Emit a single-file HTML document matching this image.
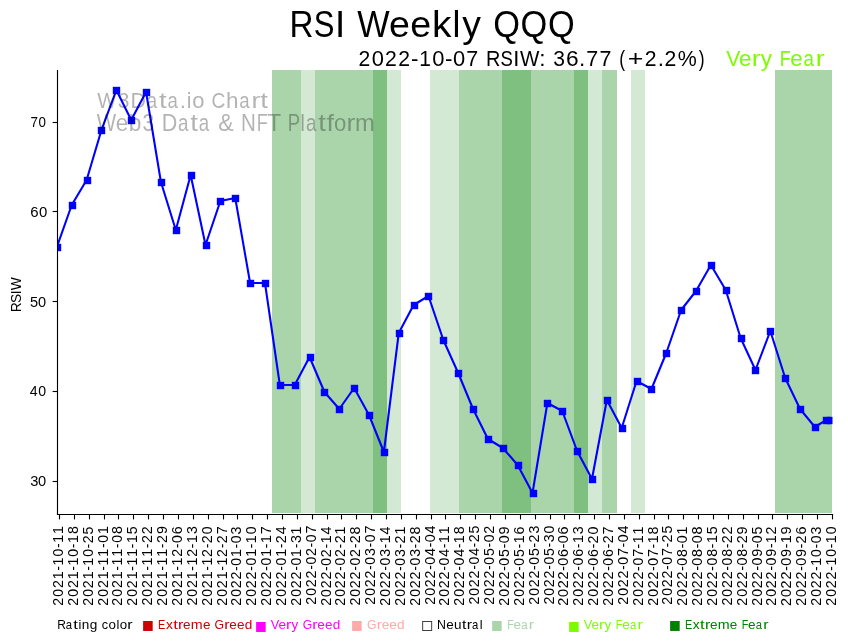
<!DOCTYPE html><html><head><meta charset="utf-8"><title>RSI Weekly QQQ</title><style>html,body{margin:0;padding:0;background:#fff;overflow:hidden}svg{display:block;will-change:transform}text{font-family:"Liberation Sans",sans-serif;font-kerning:none;white-space:pre}</style></head><body>
<svg width="848" height="641" viewBox="0 0 848 641">
<rect x="0" y="0" width="848" height="641" fill="#ffffff"/>
<g shape-rendering="crispEdges">
<rect x="272" y="70" width="29" height="443" fill="#aad4aa"/>
<rect x="301" y="70" width="14" height="443" fill="#d4e9d4"/>
<rect x="315" y="70" width="58" height="443" fill="#aad4aa"/>
<rect x="373" y="70" width="14" height="443" fill="#7fbf7f"/>
<rect x="387" y="70" width="14" height="443" fill="#d4e9d4"/>
<rect x="430" y="70" width="29" height="443" fill="#d4e9d4"/>
<rect x="459" y="70" width="43" height="443" fill="#aad4aa"/>
<rect x="502" y="70" width="29" height="443" fill="#7fbf7f"/>
<rect x="531" y="70" width="43" height="443" fill="#aad4aa"/>
<rect x="574" y="70" width="14" height="443" fill="#7fbf7f"/>
<rect x="588" y="70" width="14" height="443" fill="#d4e9d4"/>
<rect x="602" y="70" width="15" height="443" fill="#aad4aa"/>
<rect x="631" y="70" width="14" height="443" fill="#d4e9d4"/>
<rect x="775" y="70" width="57" height="443" fill="#aad4aa"/>
</g>
<defs><clipPath id="axc"><rect x="57" y="70" width="775.5" height="444"/></clipPath></defs>
<g clip-path="url(#axc)">
<polyline points="56.89,247.00 71.75,205.00 86.62,180.00 101.48,130.00 116.34,90.00 131.21,120.00 146.07,92.00 160.93,182.00 175.80,230.00 190.66,175.00 205.52,245.00 220.39,201.00 235.25,198.00 250.12,283.00 264.98,283.00 279.84,385.00 294.71,385.00 309.57,357.00 324.43,392.00 339.30,409.00 354.16,388.00 369.02,415.00 383.89,452.00 398.75,333.00 413.61,305.00 428.48,296.00 443.34,340.00 458.20,373.00 473.07,409.00 487.93,439.00 502.80,448.00 517.66,465.00 532.52,493.00 547.39,403.00 562.25,411.00 577.11,451.00 591.98,479.00 606.84,400.00 621.70,428.00 636.57,381.00 651.43,389.00 666.29,353.00 681.16,310.00 696.02,291.00 710.88,265.00 725.75,290.00 740.61,338.00 755.47,370.00 770.34,331.00 785.20,378.00 800.06,409.00 814.93,427.00 825.55,420.40 829.80,420.40" fill="none" stroke="#0000ff" stroke-width="2.083" stroke-linejoin="round" stroke-linecap="square"/>
<rect x="53.80" y="243.80" width="7.4" height="7.4" fill="#0000ff"/>
<rect x="68.80" y="201.80" width="7.4" height="7.4" fill="#0000ff"/>
<rect x="83.80" y="176.80" width="7.4" height="7.4" fill="#0000ff"/>
<rect x="97.80" y="126.80" width="7.4" height="7.4" fill="#0000ff"/>
<rect x="112.80" y="86.80" width="7.4" height="7.4" fill="#0000ff"/>
<rect x="127.80" y="116.80" width="7.4" height="7.4" fill="#0000ff"/>
<rect x="142.80" y="88.80" width="7.4" height="7.4" fill="#0000ff"/>
<rect x="157.80" y="178.80" width="7.4" height="7.4" fill="#0000ff"/>
<rect x="172.80" y="226.80" width="7.4" height="7.4" fill="#0000ff"/>
<rect x="187.80" y="171.80" width="7.4" height="7.4" fill="#0000ff"/>
<rect x="202.80" y="241.80" width="7.4" height="7.4" fill="#0000ff"/>
<rect x="216.80" y="197.80" width="7.4" height="7.4" fill="#0000ff"/>
<rect x="231.80" y="194.80" width="7.4" height="7.4" fill="#0000ff"/>
<rect x="246.80" y="279.80" width="7.4" height="7.4" fill="#0000ff"/>
<rect x="261.80" y="279.80" width="7.4" height="7.4" fill="#0000ff"/>
<rect x="276.80" y="381.80" width="7.4" height="7.4" fill="#0000ff"/>
<rect x="291.80" y="381.80" width="7.4" height="7.4" fill="#0000ff"/>
<rect x="306.80" y="353.80" width="7.4" height="7.4" fill="#0000ff"/>
<rect x="320.80" y="388.80" width="7.4" height="7.4" fill="#0000ff"/>
<rect x="335.80" y="405.80" width="7.4" height="7.4" fill="#0000ff"/>
<rect x="350.80" y="384.80" width="7.4" height="7.4" fill="#0000ff"/>
<rect x="365.80" y="411.80" width="7.4" height="7.4" fill="#0000ff"/>
<rect x="380.80" y="448.80" width="7.4" height="7.4" fill="#0000ff"/>
<rect x="395.80" y="329.80" width="7.4" height="7.4" fill="#0000ff"/>
<rect x="410.80" y="301.80" width="7.4" height="7.4" fill="#0000ff"/>
<rect x="424.80" y="292.80" width="7.4" height="7.4" fill="#0000ff"/>
<rect x="439.80" y="336.80" width="7.4" height="7.4" fill="#0000ff"/>
<rect x="454.80" y="369.80" width="7.4" height="7.4" fill="#0000ff"/>
<rect x="469.80" y="405.80" width="7.4" height="7.4" fill="#0000ff"/>
<rect x="484.80" y="435.80" width="7.4" height="7.4" fill="#0000ff"/>
<rect x="499.80" y="444.80" width="7.4" height="7.4" fill="#0000ff"/>
<rect x="514.80" y="461.80" width="7.4" height="7.4" fill="#0000ff"/>
<rect x="529.80" y="489.80" width="7.4" height="7.4" fill="#0000ff"/>
<rect x="543.80" y="399.80" width="7.4" height="7.4" fill="#0000ff"/>
<rect x="558.80" y="407.80" width="7.4" height="7.4" fill="#0000ff"/>
<rect x="573.80" y="447.80" width="7.4" height="7.4" fill="#0000ff"/>
<rect x="588.80" y="475.80" width="7.4" height="7.4" fill="#0000ff"/>
<rect x="603.80" y="396.80" width="7.4" height="7.4" fill="#0000ff"/>
<rect x="618.80" y="424.80" width="7.4" height="7.4" fill="#0000ff"/>
<rect x="633.80" y="377.80" width="7.4" height="7.4" fill="#0000ff"/>
<rect x="647.80" y="385.80" width="7.4" height="7.4" fill="#0000ff"/>
<rect x="662.80" y="349.80" width="7.4" height="7.4" fill="#0000ff"/>
<rect x="677.80" y="306.80" width="7.4" height="7.4" fill="#0000ff"/>
<rect x="692.80" y="287.80" width="7.4" height="7.4" fill="#0000ff"/>
<rect x="707.80" y="261.80" width="7.4" height="7.4" fill="#0000ff"/>
<rect x="722.80" y="286.80" width="7.4" height="7.4" fill="#0000ff"/>
<rect x="737.80" y="334.80" width="7.4" height="7.4" fill="#0000ff"/>
<rect x="751.80" y="366.80" width="7.4" height="7.4" fill="#0000ff"/>
<rect x="766.80" y="327.80" width="7.4" height="7.4" fill="#0000ff"/>
<rect x="781.80" y="374.80" width="7.4" height="7.4" fill="#0000ff"/>
<rect x="796.80" y="405.80" width="7.4" height="7.4" fill="#0000ff"/>
<rect x="811.80" y="423.80" width="7.4" height="7.4" fill="#0000ff"/>
<rect x="822.80" y="416.80" width="7.4" height="7.4" fill="#0000ff"/>
<rect x="826.80" y="416.80" width="7.4" height="7.4" fill="#0000ff"/>
</g>
<g stroke="#000" stroke-width="1.111" stroke-linecap="square">
<line x1="57.5" y1="70.5" x2="57.5" y2="514.5"/>
<line x1="57.5" y1="514.5" x2="832.5" y2="514.5"/>
</g>
<g stroke="#000" stroke-width="1.111">
<line x1="59.5" y1="514.5" x2="59.5" y2="519.4"/>
<line x1="74.5" y1="514.5" x2="74.5" y2="519.4"/>
<line x1="89.5" y1="514.5" x2="89.5" y2="519.4"/>
<line x1="104.5" y1="514.5" x2="104.5" y2="519.4"/>
<line x1="118.5" y1="514.5" x2="118.5" y2="519.4"/>
<line x1="133.5" y1="514.5" x2="133.5" y2="519.4"/>
<line x1="148.5" y1="514.5" x2="148.5" y2="519.4"/>
<line x1="163.5" y1="514.5" x2="163.5" y2="519.4"/>
<line x1="178.5" y1="514.5" x2="178.5" y2="519.4"/>
<line x1="193.5" y1="514.5" x2="193.5" y2="519.4"/>
<line x1="208.5" y1="514.5" x2="208.5" y2="519.4"/>
<line x1="223.5" y1="514.5" x2="223.5" y2="519.4"/>
<line x1="237.5" y1="514.5" x2="237.5" y2="519.4"/>
<line x1="252.5" y1="514.5" x2="252.5" y2="519.4"/>
<line x1="267.5" y1="514.5" x2="267.5" y2="519.4"/>
<line x1="282.5" y1="514.5" x2="282.5" y2="519.4"/>
<line x1="297.5" y1="514.5" x2="297.5" y2="519.4"/>
<line x1="312.5" y1="514.5" x2="312.5" y2="519.4"/>
<line x1="327.5" y1="514.5" x2="327.5" y2="519.4"/>
<line x1="341.5" y1="514.5" x2="341.5" y2="519.4"/>
<line x1="356.5" y1="514.5" x2="356.5" y2="519.4"/>
<line x1="371.5" y1="514.5" x2="371.5" y2="519.4"/>
<line x1="386.5" y1="514.5" x2="386.5" y2="519.4"/>
<line x1="401.5" y1="514.5" x2="401.5" y2="519.4"/>
<line x1="416.5" y1="514.5" x2="416.5" y2="519.4"/>
<line x1="431.5" y1="514.5" x2="431.5" y2="519.4"/>
<line x1="445.5" y1="514.5" x2="445.5" y2="519.4"/>
<line x1="460.5" y1="514.5" x2="460.5" y2="519.4"/>
<line x1="475.5" y1="514.5" x2="475.5" y2="519.4"/>
<line x1="490.5" y1="514.5" x2="490.5" y2="519.4"/>
<line x1="505.5" y1="514.5" x2="505.5" y2="519.4"/>
<line x1="520.5" y1="514.5" x2="520.5" y2="519.4"/>
<line x1="535.5" y1="514.5" x2="535.5" y2="519.4"/>
<line x1="550.5" y1="514.5" x2="550.5" y2="519.4"/>
<line x1="564.5" y1="514.5" x2="564.5" y2="519.4"/>
<line x1="579.5" y1="514.5" x2="579.5" y2="519.4"/>
<line x1="594.5" y1="514.5" x2="594.5" y2="519.4"/>
<line x1="609.5" y1="514.5" x2="609.5" y2="519.4"/>
<line x1="624.5" y1="514.5" x2="624.5" y2="519.4"/>
<line x1="639.5" y1="514.5" x2="639.5" y2="519.4"/>
<line x1="654.5" y1="514.5" x2="654.5" y2="519.4"/>
<line x1="668.5" y1="514.5" x2="668.5" y2="519.4"/>
<line x1="683.5" y1="514.5" x2="683.5" y2="519.4"/>
<line x1="698.5" y1="514.5" x2="698.5" y2="519.4"/>
<line x1="713.5" y1="514.5" x2="713.5" y2="519.4"/>
<line x1="728.5" y1="514.5" x2="728.5" y2="519.4"/>
<line x1="743.5" y1="514.5" x2="743.5" y2="519.4"/>
<line x1="758.5" y1="514.5" x2="758.5" y2="519.4"/>
<line x1="772.5" y1="514.5" x2="772.5" y2="519.4"/>
<line x1="787.5" y1="514.5" x2="787.5" y2="519.4"/>
<line x1="802.5" y1="514.5" x2="802.5" y2="519.4"/>
<line x1="817.5" y1="514.5" x2="817.5" y2="519.4"/>
<line x1="832.5" y1="514.5" x2="832.5" y2="519.4"/>
<line x1="52.6" y1="481.5" x2="57.5" y2="481.5"/>
<line x1="52.6" y1="391.5" x2="57.5" y2="391.5"/>
<line x1="52.6" y1="301.5" x2="57.5" y2="301.5"/>
<line x1="52.6" y1="211.5" x2="57.5" y2="211.5"/>
<line x1="52.6" y1="122.5" x2="57.5" y2="122.5"/>
</g>
<text font-size="1000.000" fill="#000000" fill-opacity="0.3" transform="matrix(0.02205 0 0 0.02205 0 107.600)" y="0"><tspan x="4409.5" textLength="873.5" lengthAdjust="spacingAndGlyphs">W</tspan><tspan x="5345.8" textLength="528.5" lengthAdjust="spacingAndGlyphs">3</tspan><tspan x="5920.2" textLength="701.4" lengthAdjust="spacingAndGlyphs">D</tspan><tspan x="6651.1" textLength="469.4" lengthAdjust="spacingAndGlyphs">a</tspan><tspan x="7212.0" textLength="348.6" lengthAdjust="spacingAndGlyphs">t</tspan><tspan x="7594.3" textLength="469.4" lengthAdjust="spacingAndGlyphs">a</tspan><tspan x="8156.7" textLength="282.2" lengthAdjust="spacingAndGlyphs">.</tspan><tspan x="8471.7" textLength="213.2" lengthAdjust="spacingAndGlyphs">i</tspan><tspan x="8718.1" textLength="555.0" lengthAdjust="spacingAndGlyphs">o</tspan> <tspan x="9589.3" textLength="629.3" lengthAdjust="spacingAndGlyphs">C</tspan><tspan x="10250.9" textLength="566.8" lengthAdjust="spacingAndGlyphs">h</tspan><tspan x="10851.7" textLength="469.4" lengthAdjust="spacingAndGlyphs">a</tspan><tspan x="11411.8" textLength="400.5" lengthAdjust="spacingAndGlyphs">r</tspan><tspan x="11798.6" textLength="348.6" lengthAdjust="spacingAndGlyphs">t</tspan></text>
<text font-size="1000.000" fill="#000000" fill-opacity="0.3" transform="matrix(0.02410 0 0 0.02410 0 130.600)" y="0"><tspan x="4018.5" textLength="803.5" lengthAdjust="spacingAndGlyphs">W</tspan><tspan x="4804.6" textLength="518.7" lengthAdjust="spacingAndGlyphs">e</tspan><tspan x="5345.7" textLength="522.4" lengthAdjust="spacingAndGlyphs">b</tspan><tspan x="5908.4" textLength="486.1" lengthAdjust="spacingAndGlyphs">3</tspan> <tspan x="6711.2" textLength="645.1" lengthAdjust="spacingAndGlyphs">D</tspan><tspan x="7383.5" textLength="431.8" lengthAdjust="spacingAndGlyphs">a</tspan><tspan x="7899.4" textLength="320.6" lengthAdjust="spacingAndGlyphs">t</tspan><tspan x="8251.1" textLength="431.8" lengthAdjust="spacingAndGlyphs">a</tspan> <tspan x="9056.4" textLength="641.2" lengthAdjust="spacingAndGlyphs">&amp;</tspan> <tspan x="9998.4" textLength="615.9" lengthAdjust="spacingAndGlyphs">N</tspan><tspan x="10650.3" textLength="458.1" lengthAdjust="spacingAndGlyphs">F</tspan><tspan x="11087.4" textLength="575.3" lengthAdjust="spacingAndGlyphs">T</tspan> <tspan x="11935.0" textLength="509.3" lengthAdjust="spacingAndGlyphs">P</tspan><tspan x="12455.5" textLength="196.1" lengthAdjust="spacingAndGlyphs">l</tspan><tspan x="12692.4" textLength="431.8" lengthAdjust="spacingAndGlyphs">a</tspan><tspan x="13208.3" textLength="320.6" lengthAdjust="spacingAndGlyphs">t</tspan><tspan x="13544.9" textLength="315.0" lengthAdjust="spacingAndGlyphs">f</tspan><tspan x="13854.2" textLength="510.5" lengthAdjust="spacingAndGlyphs">o</tspan><tspan x="14378.4" textLength="368.4" lengthAdjust="spacingAndGlyphs">r</tspan><tspan x="14726.4" textLength="819.5" lengthAdjust="spacingAndGlyphs">m</tspan></text>
<text font-size="1000.000" fill="#000000" transform="matrix(0 -0.01421 0.01497 0 62.554 0)" x="-42625.0 -41993.6 -41387.8 -40761.2 -40159.8 -39791.8 -39168.3 -38571.7 -38203.7 -37585.1" y="0">2021-10-11</text>
<text font-size="1000.000" fill="#000000" transform="matrix(0 -0.01428 0.01497 0 77.554 0)" x="-42415.0 -41787.5 -41185.5 -40563.0 -39964.6 -39599.6 -38979.9 -38386.5 -38021.5 -37401.8" y="0">2021-10-18</text>
<text font-size="1000.000" fill="#000000" transform="matrix(0 -0.01414 0.01541 0 92.654 0)" x="-42839.3 -42207.4 -41601.2 -40974.2 -40372.5 -40004.1 -39380.2 -38783.3 -38422.9 -37794.8" y="0">2021-10-25</text>
<text font-size="1000.000" fill="#000000" transform="matrix(0 -0.01421 0.01497 0 107.554 0)" x="-42625.0 -41993.6 -41387.8 -40761.2 -40159.8 -39791.8 -39173.2 -38571.7 -38198.8 -37585.1" y="0">2021-11-01</text>
<text font-size="1000.000" fill="#000000" transform="matrix(0 -0.01428 0.01411 0 121.658 0)" x="-42415.0 -41787.5 -41185.5 -40563.0 -39964.6 -39599.6 -38984.9 -38386.5 -38016.6 -37401.8" y="0">2021-11-08</text>
<text font-size="1000.000" fill="#000000" transform="matrix(0 -0.01410 0.01411 0 136.658 0)" x="-42963.1 -42327.4 -41717.5 -41086.6 -40482.0 -40110.6 -39487.8 -38883.2 -38511.8 -37888.0" y="0">2021-11-15</text>
<text font-size="1000.000" fill="#000000" transform="matrix(0 -0.01413 0.01541 0 151.654 0)" x="-42859.5 -42225.9 -41618.0 -40989.3 -40386.3 -40016.6 -39395.9 -38792.8 -38431.1 -37810.4" y="0">2021-11-22</text>
<text font-size="1000.000" fill="#000000" transform="matrix(0 -0.01426 0.01496 0 166.500 0)" x="-42474.9 -41846.3 -41243.3 -40619.7 -40020.5 -39654.7 -39038.9 -38439.6 -38081.7 -37456.2" y="0">2021-11-29</text>
<text font-size="1000.000" fill="#000000" transform="matrix(0 -0.01430 0.01496 0 181.500 0)" x="-42351.9 -41726.6 -41126.7 -40506.4 -39909.7 -39546.4 -38941.6 -38337.1 -37968.9 -37356.2" y="0">2021-12-06</text>
<text font-size="1000.000" fill="#000000" transform="matrix(0 -0.01412 0.01496 0 196.500 0)" x="-42889.4 -42255.5 -41647.4 -41018.4 -40415.1 -40045.2 -39432.2 -38820.9 -38451.0 -37823.9" y="0">2021-12-13</text>
<text font-size="1000.000" fill="#000000" transform="matrix(0 -0.01417 0.01496 0 211.500 0)" x="-42740.9 -42110.6 -41505.9 -40880.4 -40279.8 -39912.7 -39303.0 -38694.5 -38335.2 -37704.9" y="0">2021-12-20</text>
<text font-size="1000.000" fill="#000000" transform="matrix(0 -0.01415 0.01496 0 226.500 0)" x="-42803.5 -42171.6 -41565.2 -40938.1 -40336.3 -39967.8 -39356.6 -38746.9 -38386.4 -37756.3" y="0">2021-12-27</text>
<text font-size="1000.000" fill="#000000" transform="matrix(0 -0.01422 0.01407 0 240.659 0)" x="-42601.7 -41974.2 -41372.2 -40757.4 -40151.1 -39781.2 -39171.4 -38573.0 -38203.1 -37587.0" y="0">2022-01-03</text>
<text font-size="1000.000" fill="#000000" transform="matrix(0 -0.01423 0.01494 0 255.500 0)" x="-42564.2 -41936.5 -41334.3 -40719.3 -40112.9 -39742.8 -39132.8 -38534.2 -38169.1 -37549.2" y="0">2022-01-10</text>
<text font-size="1000.000" fill="#000000" transform="matrix(0 -0.01421 0.01496 0 270.500 0)" x="-42624.5 -41995.2 -41391.4 -40774.9 -40167.2 -39795.9 -39184.3 -38584.4 -38218.0 -37598.5" y="0">2022-01-17</text>
<text font-size="1000.000" fill="#000000" transform="matrix(0 -0.01424 0.01496 0 285.500 0)" x="-42531.4 -41904.3 -41302.6 -40688.2 -40082.3 -39712.7 -39103.2 -38505.1 -38148.2 -37521.2" y="0">2022-01-24</text>
<text font-size="1000.000" fill="#000000" transform="matrix(0 -0.01418 0.01496 0 300.500 0)" x="-42720.6 -42090.0 -41485.0 -40867.1 -40258.4 -39886.1 -39273.2 -38672.4 -38298.8 -37687.1" y="0">2022-01-31</text>
<text font-size="1000.000" fill="#000000" transform="matrix(0 -0.01424 0.01496 0 315.500 0)" x="-42461.7 -41836.0 -41235.7 -40622.7 -40017.9 -39649.4 -39049.1 -38444.2 -38075.7 -37464.6" y="0">2022-02-07</text>
<text font-size="1000.000" fill="#000000" transform="matrix(0 -0.01424 0.01496 0 330.500 0)" x="-42545.4 -41918.3 -41316.7 -40702.3 -40096.3 -39726.7 -39125.1 -38519.1 -38154.4 -37535.2" y="0">2022-02-14</text>
<text font-size="1000.000" fill="#000000" transform="matrix(0 -0.01418 0.01496 0 344.500 0)" x="-42719.1 -42089.3 -41485.1 -40868.0 -40260.0 -39888.3 -39284.1 -38676.0 -38317.1 -37692.3" y="0">2022-02-21</text>
<text font-size="1000.000" fill="#000000" transform="matrix(0 -0.01424 0.01491 0 359.549 0)" x="-42528.3 -41902.4 -41301.9 -40688.6 -40083.6 -39714.9 -39114.4 -38509.4 -38153.4 -37527.4" y="0">2022-02-28</text>
<text font-size="1000.000" fill="#000000" transform="matrix(0 -0.01424 0.01411 0 374.658 0)" x="-42468.6 -41842.6 -41242.0 -40628.7 -40023.6 -39654.8 -39040.3 -38449.2 -38080.4 -37469.0" y="0">2022-03-07</text>
<text font-size="1000.000" fill="#000000" transform="matrix(0 -0.01423 0.01497 0 389.554 0)" x="-42566.0 -41938.6 -41336.6 -40721.9 -40115.7 -39745.9 -39129.9 -38537.8 -38172.9 -37553.4" y="0">2022-03-14</text>
<text font-size="1000.000" fill="#000000" transform="matrix(0 -0.01417 0.01411 0 404.658 0)" x="-42753.4 -42123.3 -41518.7 -40901.4 -40293.1 -39921.3 -39302.7 -38708.4 -38349.3 -37724.2" y="0">2022-03-21</text>
<text font-size="1000.000" fill="#000000" transform="matrix(0 -0.01424 0.01492 0 419.549 0)" x="-42535.2 -41909.0 -41308.1 -40694.6 -40089.3 -39720.4 -39105.6 -38514.3 -38158.1 -37531.8" y="0">2022-03-28</text>
<text font-size="1000.000" fill="#000000" transform="matrix(0 -0.01434 0.01411 0 434.658 0)" x="-42169.5 -41547.9 -40951.6 -40342.6 -39741.0 -39375.7 -38766.8 -38177.7 -37812.4 -37203.5" y="0">2022-04-04</text>
<text font-size="1000.000" fill="#000000" transform="matrix(0 -0.01425 0.01411 0 448.658 0)" x="-42504.3 -41876.7 -41274.6 -40659.7 -40053.3 -39683.3 -39068.6 -38474.8 -38109.8 -37494.9" y="0">2022-04-11</text>
<text font-size="1000.000" fill="#000000" transform="matrix(0 -0.01431 0.01497 0 463.754 0)" x="-42326.9 -41703.1 -41104.6 -40493.4 -39890.0 -39522.9 -38911.9 -38321.1 -37959.0 -37342.8" y="0">2022-04-18</text>
<text font-size="1000.000" fill="#000000" transform="matrix(0 -0.01418 0.01496 0 478.500 0)" x="-42639.2 -42011.1 -41408.5 -40793.1 -40186.4 -39816.0 -39200.8 -38606.7 -38249.1 -37624.7" y="0">2022-04-25</text>
<text font-size="1000.000" fill="#000000" transform="matrix(0 -0.01419 0.01541 0 493.654 0)" x="-42619.1 -41990.9 -41388.2 -40772.8 -40166.0 -39795.6 -39183.9 -38586.1 -38215.7 -37613.0" y="0">2022-05-02</text>
<text font-size="1000.000" fill="#000000" transform="matrix(0 -0.01431 0.01496 0 508.500 0)" x="-42331.2 -41707.8 -41109.7 -40499.0 -39896.0 -39529.2 -38922.2 -38328.1 -37961.3 -37353.6" y="0">2022-05-09</text>
<text font-size="1000.000" fill="#000000" transform="matrix(0 -0.01425 0.01496 0 523.500 0)" x="-42513.0 -41886.7 -41285.9 -40672.3 -40067.0 -39698.0 -39088.2 -38491.9 -38127.9 -37509.2" y="0">2022-05-16</text>
<text font-size="1000.000" fill="#000000" transform="matrix(0 -0.01412 0.01411 0 538.658 0)" x="-42826.3 -42195.2 -41589.8 -40971.5 -40362.5 -39989.8 -39375.4 -38775.3 -38415.5 -37783.2" y="0">2022-05-23</text>
<text font-size="1000.000" fill="#000000" transform="matrix(0 -0.01417 0.01496 0 553.500 0)" x="-42667.0 -42038.5 -41435.5 -40819.8 -40212.8 -39842.1 -39230.2 -38632.1 -38260.2 -37645.7" y="0">2022-05-30</text>
<text font-size="1000.000" fill="#000000" transform="matrix(0 -0.01446 0.01537 0 567.504 0)" x="-41897.0 -41280.0 -40688.1 -40083.7 -39485.8 -39124.0 -38519.5 -37934.1 -37572.3 -36967.9" y="0">2022-06-06</text>
<text font-size="1000.000" fill="#000000" transform="matrix(0 -0.01430 0.01452 0 582.604 0)" x="-42356.6 -41731.5 -41131.8 -40519.4 -39915.1 -39547.0 -38934.5 -38343.0 -37979.9 -37361.2" y="0">2022-06-13</text>
<text font-size="1000.000" fill="#000000" transform="matrix(0 -0.01435 0.01537 0 597.703 0)" x="-42215.9 -41594.1 -40997.6 -40388.4 -39786.7 -39421.2 -38812.0 -38222.9 -37870.0 -37248.3" y="0">2022-06-20</text>
<text font-size="1000.000" fill="#000000" transform="matrix(0 -0.01432 0.01496 0 612.500 0)" x="-42301.2 -41678.0 -41080.0 -40469.3 -39866.4 -39499.7 -38889.0 -38298.8 -37944.8 -37323.4" y="0">2022-06-27</text>
<text font-size="1000.000" fill="#000000" transform="matrix(0 -0.01430 0.01496 0 627.500 0)" x="-42287.4 -41664.3 -41066.4 -40456.0 -39853.1 -39486.6 -38878.0 -38286.0 -37919.4 -37309.0" y="0">2022-07-04</text>
<text font-size="1000.000" fill="#000000" transform="matrix(0 -0.01421 0.01496 0 642.500 0)" x="-42632.1 -42002.8 -41399.0 -40782.5 -40174.8 -39803.5 -39188.9 -38592.1 -38225.7 -37609.1" y="0">2022-07-11</text>
<text font-size="1000.000" fill="#000000" transform="matrix(0 -0.01428 0.01496 0 657.500 0)" x="-42421.4 -41795.9 -41195.9 -40583.2 -39978.5 -39610.2 -38999.3 -38405.5 -38042.1 -37424.4" y="0">2022-07-18</text>
<text font-size="1000.000" fill="#000000" transform="matrix(0 -0.01415 0.01496 0 671.500 0)" x="-42737.7 -42108.0 -41503.8 -40886.8 -40278.7 -39907.1 -39292.0 -38694.8 -38336.0 -37710.0" y="0">2022-07-25</text>
<text font-size="1000.000" fill="#000000" transform="matrix(0 -0.01433 0.01454 0 686.604 0)" x="-42281.0 -41657.1 -41058.6 -40447.4 -39843.9 -39476.8 -38865.6 -38274.8 -37907.7 -37301.5" y="0">2022-08-01</text>
<text font-size="1000.000" fill="#000000" transform="matrix(0 -0.01440 0.01450 0 701.604 0)" x="-42067.3 -41447.1 -40852.1 -40244.5 -39644.0 -39279.7 -38672.1 -38084.2 -37719.9 -37112.3" y="0">2022-08-08</text>
<text font-size="1000.000" fill="#000000" transform="matrix(0 -0.01423 0.01496 0 716.500 0)" x="-42562.0 -41934.0 -41331.6 -40716.4 -40109.8 -39739.5 -39124.3 -38530.4 -38165.1 -37548.7" y="0">2022-08-15</text>
<text font-size="1000.000" fill="#000000" transform="matrix(0 -0.01426 0.01447 0 731.595 0)" x="-42468.9 -41843.0 -41242.5 -40629.2 -40024.2 -39655.5 -39042.3 -38450.0 -38094.0 -37480.7" y="0">2022-08-22</text>
<text font-size="1000.000" fill="#000000" transform="matrix(0 -0.01438 0.01492 0 746.549 0)" x="-42126.1 -41504.9 -40908.9 -40300.4 -39699.1 -39334.1 -38725.5 -38136.9 -37784.4 -37166.3" y="0">2022-08-29</text>
<text font-size="1000.000" fill="#000000" transform="matrix(0 -0.01431 0.01411 0 761.658 0)" x="-42324.2 -41700.8 -41102.7 -40491.9 -39888.9 -39522.1 -38914.4 -38321.0 -37954.3 -37347.2" y="0">2022-09-05</text>
<text font-size="1000.000" fill="#000000" transform="matrix(0 -0.01431 0.01410 0 775.658 0)" x="-42331.6 -41706.7 -41107.2 -40495.0 -39890.7 -39522.8 -38913.6 -38319.1 -37956.1 -37351.6" y="0">2022-09-12</text>
<text font-size="1000.000" fill="#000000" transform="matrix(0 -0.01443 0.01539 0 790.504 0)" x="-41990.6 -41370.5 -40775.5 -40168.0 -39567.6 -39203.3 -38598.8 -38007.9 -37648.7 -37039.2" y="0">2022-09-19</text>
<text font-size="1000.000" fill="#000000" transform="matrix(0 -0.01440 0.01492 0 805.549 0)" x="-42071.1 -41451.6 -40857.2 -40250.2 -39650.3 -39286.5 -38682.6 -38092.1 -37740.9 -37121.3" y="0">2022-09-26</text>
<text font-size="1000.000" fill="#000000" transform="matrix(0 -0.01422 0.01411 0 820.658 0)" x="-42601.7 -41974.2 -41372.2 -40757.4 -40151.1 -39786.2 -39166.5 -38573.0 -38203.1 -37587.0" y="0">2022-10-03</text>
<text font-size="1000.000" fill="#000000" transform="matrix(0 -0.01423 0.01496 0 835.500 0)" x="-42564.2 -41936.5 -41334.3 -40719.3 -40112.9 -39747.8 -39127.9 -38534.2 -38169.1 -37549.2" y="0">2022-10-10</text>
<text font-size="1000.000" fill="#000000" transform="matrix(0.01465 0 0 0.01532 0 485.683)" x="2063.3 2597.2" y="0">30</text>
<text font-size="1000.000" fill="#000000" transform="matrix(0.01414 0 0 0.01493 0 395.518)" x="2108.7 2712.3" y="0">40</text>
<text font-size="1000.000" fill="#000000" transform="matrix(0.01459 0 0 0.01494 0 306.530)" x="2065.2 2608.3" y="0">50</text>
<text font-size="1000.000" fill="#000000" transform="matrix(0.01498 0 0 0.01488 0 216.725)" x="2015.7 2609.0" y="0">60</text>
<text font-size="1000.000" fill="#000000" transform="matrix(0.01338 0 0 0.01497 0 126.504)" x="2272.9 2884.8" y="0">70</text>
<text font-size="1000.000" fill="#000000" transform="matrix(0 -0.01378 0.01540 0 20.500 0)" x="-22655.7 -21994.9 -21355.5 -21067.2" y="0">RSIW</text>
<text font-size="1000.000" fill="#000000" transform="matrix(0.03385 0 0 0.03679 0 36.500)" y="0"><tspan x="8549.8" textLength="709.6" lengthAdjust="spacingAndGlyphs">R</tspan><tspan x="9269.5" textLength="610.9" lengthAdjust="spacingAndGlyphs">S</tspan><tspan x="9896.1" textLength="301.9" lengthAdjust="spacingAndGlyphs">I</tspan> <tspan x="10554.8" textLength="956.0" lengthAdjust="spacingAndGlyphs">W</tspan><tspan x="11490.2" textLength="617.2" lengthAdjust="spacingAndGlyphs">e</tspan><tspan x="12122.2" textLength="617.2" lengthAdjust="spacingAndGlyphs">e</tspan><tspan x="12760.7" textLength="574.4" lengthAdjust="spacingAndGlyphs">k</tspan><tspan x="13365.8" textLength="233.3" lengthAdjust="spacingAndGlyphs">l</tspan><tspan x="13653.1" textLength="551.6" lengthAdjust="spacingAndGlyphs">y</tspan> <tspan x="14569.3" textLength="790.0" lengthAdjust="spacingAndGlyphs">Q</tspan><tspan x="15378.0" textLength="790.0" lengthAdjust="spacingAndGlyphs">Q</tspan><tspan x="16186.6" textLength="790.0" lengthAdjust="spacingAndGlyphs">Q</tspan></text>
<text font-size="1000.000" fill="#000000" transform="matrix(0.02308 0 0 0.02137 0 65.500)" y="0"><tspan x="15528.2" textLength="509.9" lengthAdjust="spacingAndGlyphs">2</tspan><tspan x="16104.7" textLength="529.0" lengthAdjust="spacingAndGlyphs">0</tspan><tspan x="16676.5" textLength="509.9" lengthAdjust="spacingAndGlyphs">2</tspan><tspan x="17250.7" textLength="509.9" lengthAdjust="spacingAndGlyphs">2</tspan><tspan x="17805.7" textLength="324.0" lengthAdjust="spacingAndGlyphs">-</tspan><tspan x="18160.4" textLength="505.3" lengthAdjust="spacingAndGlyphs">1</tspan><tspan x="18726.9" textLength="529.0" lengthAdjust="spacingAndGlyphs">0</tspan><tspan x="19279.6" textLength="324.0" lengthAdjust="spacingAndGlyphs">-</tspan><tspan x="19626.7" textLength="529.0" lengthAdjust="spacingAndGlyphs">0</tspan><tspan x="20204.8" textLength="517.5" lengthAdjust="spacingAndGlyphs">7</tspan> <tspan x="21057.3" textLength="623.3" lengthAdjust="spacingAndGlyphs">R</tspan><tspan x="21689.5" textLength="536.6" lengthAdjust="spacingAndGlyphs">S</tspan><tspan x="22239.8" textLength="265.2" lengthAdjust="spacingAndGlyphs">I</tspan><tspan x="22531.5" textLength="839.7" lengthAdjust="spacingAndGlyphs">W</tspan><tspan x="23361.3" textLength="271.3" lengthAdjust="spacingAndGlyphs">:</tspan> <tspan x="23969.6" textLength="508.1" lengthAdjust="spacingAndGlyphs">3</tspan><tspan x="24522.8" textLength="547.6" lengthAdjust="spacingAndGlyphs">6</tspan><tspan x="25091.2" textLength="271.3" lengthAdjust="spacingAndGlyphs">.</tspan><tspan x="25397.1" textLength="517.5" lengthAdjust="spacingAndGlyphs">7</tspan><tspan x="25971.2" textLength="517.5" lengthAdjust="spacingAndGlyphs">7</tspan> <tspan x="26836.1" textLength="254.0" lengthAdjust="spacingAndGlyphs">(</tspan><tspan x="27196.8" textLength="679.0" lengthAdjust="spacingAndGlyphs">+</tspan><tspan x="27934.1" textLength="509.9" lengthAdjust="spacingAndGlyphs">2</tspan><tspan x="28495.6" textLength="271.3" lengthAdjust="spacingAndGlyphs">.</tspan><tspan x="28795.0" textLength="509.9" lengthAdjust="spacingAndGlyphs">2</tspan><tspan x="29366.0" textLength="823.9" lengthAdjust="spacingAndGlyphs">%</tspan><tspan x="30274.5" textLength="254.0" lengthAdjust="spacingAndGlyphs">)</tspan></text>
<text font-size="1000.000" fill="#7cfc00" transform="matrix(0.02207 0 0 0.02207 0 65.500)" y="0"><tspan x="32911.0" textLength="639.1" lengthAdjust="spacingAndGlyphs">V</tspan><tspan x="33489.4" textLength="567.2" lengthAdjust="spacingAndGlyphs">e</tspan><tspan x="34066.9" textLength="402.9" lengthAdjust="spacingAndGlyphs">r</tspan><tspan x="34475.3" textLength="507.0" lengthAdjust="spacingAndGlyphs">y</tspan> <tspan x="35334.8" textLength="494.4" lengthAdjust="spacingAndGlyphs">F</tspan><tspan x="35808.5" textLength="567.2" lengthAdjust="spacingAndGlyphs">e</tspan><tspan x="36401.3" textLength="472.2" lengthAdjust="spacingAndGlyphs">a</tspan><tspan x="36964.6" textLength="402.9" lengthAdjust="spacingAndGlyphs">r</tspan></text>
<text font-size="1000.000" fill="#000000" transform="matrix(0.01363 0 0 0.01363 0 628.500)" y="0"><tspan x="4201.1" textLength="636.5" lengthAdjust="spacingAndGlyphs">R</tspan><tspan x="4822.7" textLength="460.9" lengthAdjust="spacingAndGlyphs">a</tspan><tspan x="5373.4" textLength="342.2" lengthAdjust="spacingAndGlyphs">t</tspan><tspan x="5752.5" textLength="209.3" lengthAdjust="spacingAndGlyphs">i</tspan><tspan x="6002.4" textLength="552.6" lengthAdjust="spacingAndGlyphs">n</tspan><tspan x="6577.5" textLength="557.0" lengthAdjust="spacingAndGlyphs">g</tspan> <tspan x="7458.2" textLength="462.3" lengthAdjust="spacingAndGlyphs">c</tspan><tspan x="7963.0" textLength="544.9" lengthAdjust="spacingAndGlyphs">o</tspan><tspan x="8540.5" textLength="209.3" lengthAdjust="spacingAndGlyphs">l</tspan><tspan x="8782.9" textLength="544.9" lengthAdjust="spacingAndGlyphs">o</tspan><tspan x="9342.3" textLength="393.2" lengthAdjust="spacingAndGlyphs">r</tspan></text>
<rect x="143.12" y="621.00" width="9.55" height="9.96" fill="#cc0000"/>
<text font-size="1000.000" fill="#cc0000" transform="matrix(0.01255 0 0 0.01364 0 628.600)" y="0"><tspan x="12597.4" textLength="577.6" lengthAdjust="spacingAndGlyphs">E</tspan><tspan x="13218.0" textLength="554.2" lengthAdjust="spacingAndGlyphs">x</tspan><tspan x="13799.6" textLength="371.0" lengthAdjust="spacingAndGlyphs">t</tspan><tspan x="14190.4" textLength="426.3" lengthAdjust="spacingAndGlyphs">r</tspan><tspan x="14582.3" textLength="600.2" lengthAdjust="spacingAndGlyphs">e</tspan><tspan x="15202.8" textLength="948.3" lengthAdjust="spacingAndGlyphs">m</tspan><tspan x="16170.2" textLength="600.2" lengthAdjust="spacingAndGlyphs">e</tspan> <tspan x="17100.3" textLength="758.0" lengthAdjust="spacingAndGlyphs">G</tspan><tspan x="17873.2" textLength="426.3" lengthAdjust="spacingAndGlyphs">r</tspan><tspan x="18265.0" textLength="600.2" lengthAdjust="spacingAndGlyphs">e</tspan><tspan x="18879.7" textLength="600.2" lengthAdjust="spacingAndGlyphs">e</tspan><tspan x="19494.7" textLength="603.9" lengthAdjust="spacingAndGlyphs">d</tspan></text>
<rect x="256.12" y="622.00" width="9.55" height="9.96" fill="#ff00ff"/>
<text font-size="1000.000" fill="#ff00ff" transform="matrix(0.01362 0 0 0.01362 0 628.500)" y="0"><tspan x="19878.4" textLength="622.4" lengthAdjust="spacingAndGlyphs">V</tspan><tspan x="20441.7" textLength="552.4" lengthAdjust="spacingAndGlyphs">e</tspan><tspan x="21004.1" textLength="392.3" lengthAdjust="spacingAndGlyphs">r</tspan><tspan x="21401.9" textLength="493.7" lengthAdjust="spacingAndGlyphs">y</tspan> <tspan x="22219.9" textLength="697.6" lengthAdjust="spacingAndGlyphs">G</tspan><tspan x="22931.2" textLength="392.3" lengthAdjust="spacingAndGlyphs">r</tspan><tspan x="23291.8" textLength="552.4" lengthAdjust="spacingAndGlyphs">e</tspan><tspan x="23857.6" textLength="552.4" lengthAdjust="spacingAndGlyphs">e</tspan><tspan x="24423.5" textLength="555.8" lengthAdjust="spacingAndGlyphs">d</tspan></text>
<rect x="352.12" y="621.00" width="9.55" height="9.96" fill="#ffaaaa"/>
<text font-size="1000.000" fill="#ffaaaa" transform="matrix(0.01144 0 0 0.01244 0 628.600)" y="0"><tspan x="32078.7" textLength="833.4" lengthAdjust="spacingAndGlyphs">G</tspan><tspan x="32939.4" textLength="449.6" lengthAdjust="spacingAndGlyphs">r</tspan><tspan x="33359.2" textLength="659.9" lengthAdjust="spacingAndGlyphs">e</tspan><tspan x="34035.1" textLength="659.9" lengthAdjust="spacingAndGlyphs">e</tspan><tspan x="34711.2" textLength="664.0" lengthAdjust="spacingAndGlyphs">d</tspan></text>
<rect x="422.66" y="621.50" width="9.0" height="9.0" fill="none" stroke="#000000" stroke-width="1" stroke-opacity="0.75"/>
<text font-size="1000.000" fill="#000000" transform="matrix(0.01178 0 0 0.01280 0 628.600)" y="0"><tspan x="37087.3" textLength="758.5" lengthAdjust="spacingAndGlyphs">N</tspan><tspan x="37874.4" textLength="638.7" lengthAdjust="spacingAndGlyphs">e</tspan><tspan x="38534.6" textLength="637.6" lengthAdjust="spacingAndGlyphs">u</tspan><tspan x="39209.7" textLength="375.1" lengthAdjust="spacingAndGlyphs">t</tspan><tspan x="39617.9" textLength="449.6" lengthAdjust="spacingAndGlyphs">r</tspan><tspan x="40069.8" textLength="531.8" lengthAdjust="spacingAndGlyphs">a</tspan><tspan x="40725.1" textLength="241.5" lengthAdjust="spacingAndGlyphs">l</tspan></text>
<rect x="492.12" y="621.00" width="9.55" height="9.96" fill="#aad5aa"/>
<text font-size="1000.000" fill="#aad5aa" transform="matrix(0.01244 0 0 0.01244 0 628.600)" y="0"><tspan x="40768.9" textLength="528.9" lengthAdjust="spacingAndGlyphs">F</tspan><tspan x="41275.7" textLength="606.8" lengthAdjust="spacingAndGlyphs">e</tspan><tspan x="41909.9" textLength="505.2" lengthAdjust="spacingAndGlyphs">a</tspan><tspan x="42512.6" textLength="431.0" lengthAdjust="spacingAndGlyphs">r</tspan></text>
<rect x="569.12" y="622.00" width="9.55" height="9.96" fill="#7cfc00"/>
<text font-size="1000.000" fill="#7cfc00" transform="matrix(0.01364 0 0 0.01364 0 628.500)" y="0"><tspan x="42798.1" textLength="620.6" lengthAdjust="spacingAndGlyphs">V</tspan><tspan x="43359.7" textLength="550.7" lengthAdjust="spacingAndGlyphs">e</tspan><tspan x="43920.4" textLength="391.2" lengthAdjust="spacingAndGlyphs">r</tspan><tspan x="44317.0" textLength="492.3" lengthAdjust="spacingAndGlyphs">y</tspan> <tspan x="45151.6" textLength="480.0" lengthAdjust="spacingAndGlyphs">F</tspan><tspan x="45611.5" textLength="550.7" lengthAdjust="spacingAndGlyphs">e</tspan><tspan x="46187.0" textLength="458.5" lengthAdjust="spacingAndGlyphs">a</tspan><tspan x="46734.1" textLength="391.2" lengthAdjust="spacingAndGlyphs">r</tspan></text>
<rect x="670.12" y="621.00" width="9.55" height="9.96" fill="#008000"/>
<text font-size="1000.000" fill="#008000" transform="matrix(0.01364 0 0 0.01364 0 628.600)" y="0"><tspan x="50219.6" textLength="531.0" lengthAdjust="spacingAndGlyphs">E</tspan><tspan x="50790.2" textLength="509.5" lengthAdjust="spacingAndGlyphs">x</tspan><tspan x="51324.8" textLength="341.1" lengthAdjust="spacingAndGlyphs">t</tspan><tspan x="51684.1" textLength="391.9" lengthAdjust="spacingAndGlyphs">r</tspan><tspan x="52044.4" textLength="551.8" lengthAdjust="spacingAndGlyphs">e</tspan><tspan x="52614.9" textLength="871.8" lengthAdjust="spacingAndGlyphs">m</tspan><tspan x="53504.2" textLength="551.8" lengthAdjust="spacingAndGlyphs">e</tspan> <tspan x="54378.3" textLength="480.9" lengthAdjust="spacingAndGlyphs">F</tspan><tspan x="54839.1" textLength="551.8" lengthAdjust="spacingAndGlyphs">e</tspan><tspan x="55415.8" textLength="459.4" lengthAdjust="spacingAndGlyphs">a</tspan><tspan x="55963.8" textLength="391.9" lengthAdjust="spacingAndGlyphs">r</tspan></text>
</svg></body></html>
